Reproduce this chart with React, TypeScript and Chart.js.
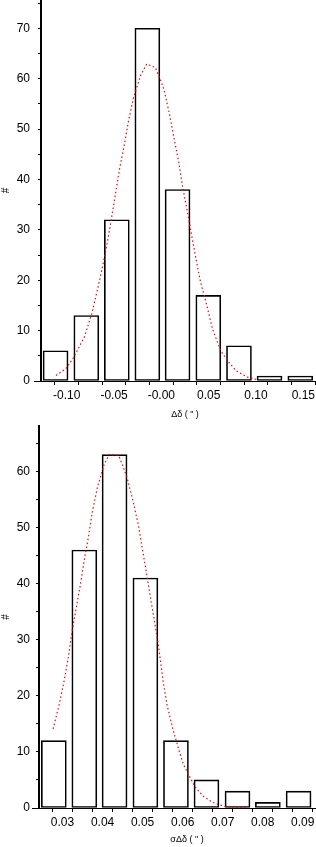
import React, { useEffect, useRef } from "react";
import { Chart, registerables } from "chart.js";

Chart.register(...registerables);

// ---------- Top panel data (Δδ) ----------
const topBinCenters = [-0.1118, -0.0793, -0.0471, -0.0148, 0.0171, 0.0496, 0.082, 0.1143, 0.1468];
const topCounts = [6, 13, 32, 70, 38, 17, 7, 1, 1];
const topCurveX = [
  -0.1113, -0.1011, -0.093, -0.0814, -0.0736, -0.0676, -0.062, -0.0571, -0.0528, -0.0486, -0.0444,
  -0.0394, -0.0349, -0.0296, -0.0218, -0.0155, -0.0064, -0.0014, 0.0028, 0.0085, 0.0134, 0.0183,
  0.0222, 0.0271, 0.0317, 0.0363, 0.0412, 0.0479, 0.0539, 0.0627, 0.0701, 0.0786, 0.0902, 0.1025,
];
const topCurveY = [
  1.1, 2.4, 4.6, 8.7, 13.3, 18.1, 22.8, 27.5, 32.2, 37.0, 41.9, 46.6, 51.4, 56.1, 60.7, 62.9, 62.2,
  60.0, 57.8, 53.0, 48.2, 43.5, 38.8, 34.0, 29.2, 24.5, 19.8, 15.1, 10.4, 6.0, 4.0, 2.1, 0.8, 0.2,
];
const topXTickValues = [-0.125, -0.1, -0.075, -0.05, -0.025, 0, 0.025, 0.05, 0.075, 0.1, 0.125, 0.15];
const topXTickLabels = ["", "-0.10", "", "-0.05", "", "-0.00", "", "0.05", "", "0.10", "", "0.15"];
const topYTickValues = [0, 5, 10, 15, 20, 25, 30, 35, 40, 45, 50, 55, 60, 65, 70, 75];
const topYTickLabels = ["0", "", "10", "", "20", "", "30", "", "40", "", "50", "", "60", "", "70", ""];
const topXTitle = "Δδ ( \" )";
const topYTitle = "#";

// ---------- Bottom panel data (σΔδ) ----------
const botBinCenters = [0.02783, 0.03545, 0.043, 0.0507, 0.05833, 0.06595, 0.0737, 0.08128, 0.08895];
const botCounts = [12, 46, 63, 41, 12, 5, 3, 1, 3];
const botCurveX = [
  0.02766, 0.02916, 0.03041, 0.03149, 0.03233, 0.03341, 0.03449, 0.03541, 0.03649, 0.03741, 0.03866,
  0.04041, 0.04166, 0.04399, 0.04516, 0.04616, 0.04766, 0.04899, 0.04999, 0.05099, 0.05199, 0.05299,
  0.05399, 0.05516, 0.05616, 0.05766, 0.05933, 0.06024, 0.06166, 0.06308, 0.06499, 0.06749, 0.07033,
  0.07333, 0.07641,
];
const botCurveY = [
  14.1, 18.4, 22.7, 27.0, 31.3, 35.6, 39.9, 44.1, 48.4, 52.6, 57.0, 61.3, 63.0, 62.9, 60.8, 58.8, 54.6,
  50.3, 46.0, 41.8, 37.4, 33.2, 28.8, 22.4, 18.2, 13.8, 9.7, 7.7, 5.7, 3.8, 2.2, 1.0, 0.3, 0.1, 0.06,
];
const botXTickValues = [0.025, 0.03, 0.035, 0.04, 0.045, 0.05, 0.055, 0.06, 0.065, 0.07, 0.075, 0.08, 0.085, 0.09];
const botXTickLabels = ["", "0.03", "", "0.04", "", "0.05", "", "0.06", "", "0.07", "", "0.08", "", "0.09"];
const botYTickValues = [0, 5, 10, 15, 20, 25, 30, 35, 40, 45, 50, 55, 60, 65];
const botYTickLabels = ["0", "", "10", "", "20", "", "30", "", "40", "", "50", "", "60", ""];
const botXTitle = "σΔδ ( \" )";
const botYTitle = "#";

Chart.defaults.font.family = "'Liberation Sans', Arial, sans-serif";
Chart.defaults.font.size = 12;
Chart.defaults.color = "#000";

const captionPlugin = {
  id: "caption",
  afterDraw(chart: any, _args: any, opts: any) {
    const { ctx, chartArea } = chart;
    ctx.save();
    // small extension of the baseline to the left of the y axis
    ctx.strokeStyle = "#000";
    ctx.lineWidth = 1;
    ctx.beginPath();
    ctx.moveTo(chartArea.left - opts.baseExtend, Math.round(chartArea.bottom) + 0.5);
    ctx.lineTo(chartArea.left, Math.round(chartArea.bottom) + 0.5);
    ctx.stroke();
    ctx.font = opts.font;
    ctx.fillStyle = "#000";
    ctx.textAlign = "center";
    ctx.textBaseline = "middle";
    ctx.fillText(opts.text, opts.x, opts.y);
    ctx.restore();
  },
};

function makeConfig(p: any) {
  return {
    type: "bar",
    data: {
      datasets: [
        {
          type: "line",
          data: p.curveX.map((x: number, i: number) => ({ x, y: p.curveY[i] })),
          borderColor: "#ff0000",
          borderWidth: 1.2,
          borderDash: [1.5, 2.5],
          pointRadius: 0,
          tension: 0,
          fill: false,
          order: 0,
        },
        {
          type: "bar",
          data: p.centers.map((x: number, i: number) => ({ x, y: p.counts[i] })),
          backgroundColor: "rgba(255,255,255,0)",
          borderColor: "#000",
          borderWidth: 1,
          borderSkipped: false,
          barThickness: p.barWidth,
          order: 1,
        },
      ],
    },
    options: {
      responsive: false,
      devicePixelRatio: 1,
      animation: false,
      layout: { padding: { top: p.padTop, left: 0, right: 0, bottom: 0 } },
      plugins: {
        legend: { display: false },
        tooltip: { enabled: false },
        caption: { text: p.xTitle, x: p.titleX, y: p.titleY, font: "9px 'Liberation Sans', Arial, sans-serif", baseExtend: 7 },
      },
      scales: {
        x: {
          type: "linear",
          min: p.xMin,
          max: p.xMax,
          bounds: "data",
          offset: false,
          grid: { display: true, drawOnChartArea: false, drawTicks: true, tickLength: 4, color: "#000", lineWidth: 1 },
          border: { display: true, color: "#000", width: 1 },
          ticks: {
            autoSkip: false,
            maxRotation: 0,
            padding: 3,
            font: { size: 12 },
            color: "#000",
            callback: (_v: any, i: number) => p.xLabels[i],
          },
          afterBuildTicks: (scale: any) => {
            scale.ticks = p.xTicks.map((v: number) => ({ value: v }));
          },
          afterFit: (scale: any) => {
            scale.height = p.xAxisHeight;
            scale.paddingLeft = 0;
            scale.paddingRight = 0;
          },
        },
        y: {
          type: "linear",
          min: 0,
          max: p.yMax,
          bounds: "data",
          grid: { display: true, drawOnChartArea: false, drawTicks: true, tickLength: 3, color: "#000", lineWidth: 1 },
          border: { display: true, color: "#000", width: 2 },
          title: { display: true, text: p.yTitle, font: { size: 10 }, padding: { top: 0, bottom: 0 }, color: "#000" },
          ticks: {
            autoSkip: false,
            padding: p.yPad,
            font: { size: 12 },
            color: "#000",
            callback: (_v: any, i: number) => p.yLabels[i],
          },
          afterBuildTicks: (scale: any) => {
            scale.ticks = p.yTicks.map((v: number) => ({ value: v }));
          },
          afterFit: (scale: any) => {
            scale.width = p.yAxisWidth;
            scale.paddingTop = 0;
            scale.paddingBottom = 0;
          },
        },
      },
    },
    plugins: [captionPlugin],
  };
}

const topConfig = {
  centers: topBinCenters,
  counts: topCounts,
  curveX: topCurveX,
  curveY: topCurveY,
  xTicks: topXTickValues,
  xLabels: topXTickLabels,
  yTicks: topYTickValues,
  yLabels: topYTickLabels,
  xTitle: topXTitle,
  yTitle: topYTitle,
  xMin: -0.1272,
  xMax: 0.1634,
  yMax: 75.6,
  padTop: 0,
  xAxisHeight: 39,
  yAxisWidth: 41,
  yPad: 8,
  titleX: 185,
  titleY: 415,
  barWidth: 25,
};

const botConfig = {
  centers: botBinCenters,
  counts: botCounts,
  curveX: botCurveX,
  curveY: botCurveY,
  xTicks: botXTickValues,
  xLabels: botXTickLabels,
  yTicks: botYTickValues,
  yLabels: botYTickLabels,
  xTitle: botXTitle,
  yTitle: botYTitle,
  xMin: 0.02413,
  xMax: 0.0933,
  yMax: 68.1,
  padTop: 6,
  xAxisHeight: 39,
  yAxisWidth: 39,
  yPad: 6,
  titleX: 187,
  titleY: 420,
  barWidth: 25,
};

function Panel({ params, top, height }: { params: any; top: number; height: number }) {
  const ref = useRef<HTMLCanvasElement>(null);
  useEffect(() => {
    if (!ref.current) return;
    const chart = new Chart(ref.current, makeConfig(params) as any);
    return () => chart.destroy();
  }, [params]);
  return (
    <canvas
      ref={ref}
      width={316}
      height={height}
      style={{ position: "absolute", left: 0, top, width: 316, height, display: "block" }}
    />
  );
}

export default function App() {
  useEffect(() => {
    document.body.style.margin = "0";
  }, []);
  return (
    <div style={{ position: "absolute", left: 0, top: 0, width: 316, height: 847, background: "#fff", overflow: "hidden" }}>
      <Panel params={topConfig} top={0} height={420} />
      <Panel params={botConfig} top={420} height={427} />
    </div>
  );
}
